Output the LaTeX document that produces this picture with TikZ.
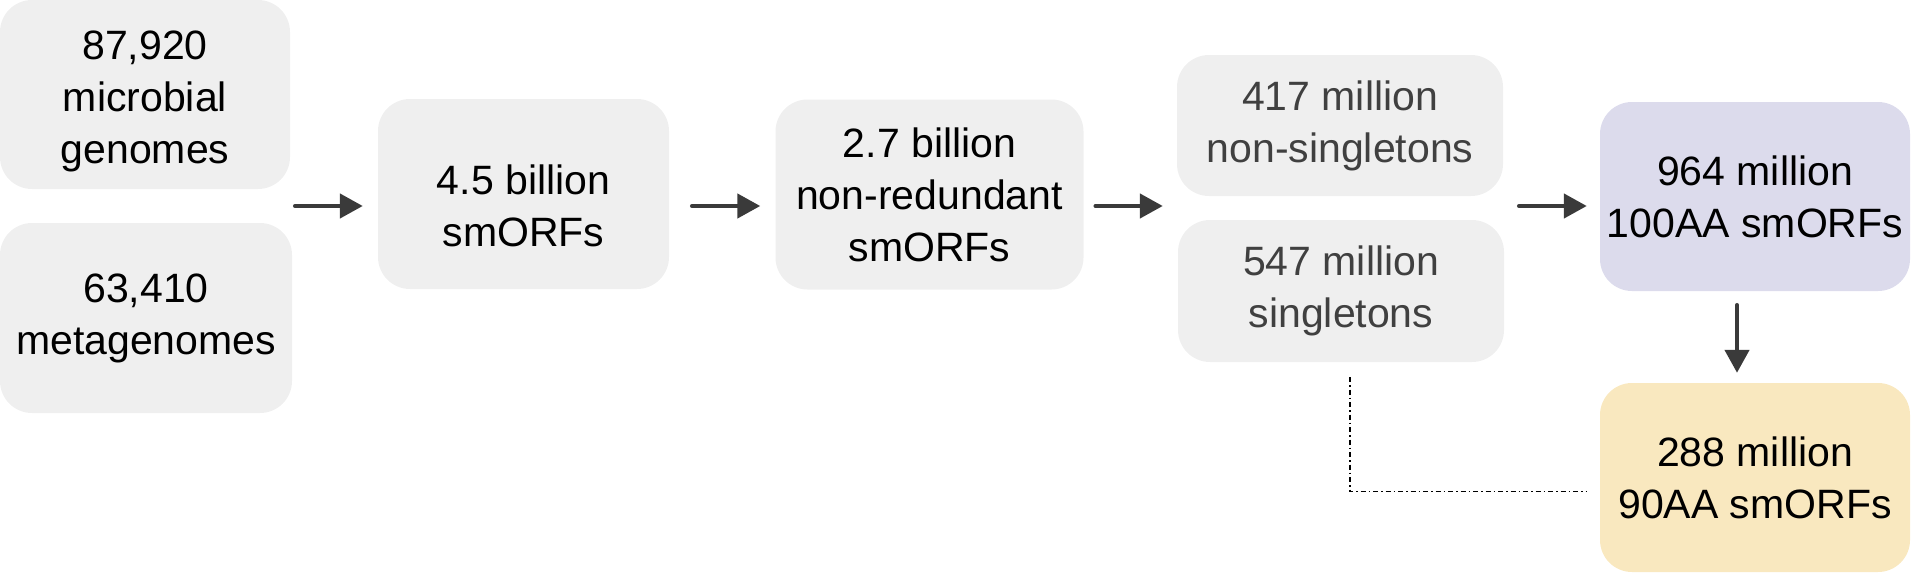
\documentclass[tikz,border=0pt]{standalone}
\usepackage{fontspec}
\setmainfont{Liberation Sans}
\usetikzlibrary{arrows.meta}

\definecolor{boxgray}{HTML}{EFEFEF}
\definecolor{boxblue}{HTML}{DCDBEC}
\definecolor{boxyellow}{HTML}{F9E8BF}
\definecolor{arrowgray}{HTML}{3A3A3A}
\definecolor{textgray}{HTML}{404040}

\newcommand{\lift}[1]{\rule{0pt}{#1}}

\tikzset{
    stage/.style={fill=boxgray, rounded corners=32pt, align=center, inner sep=0pt,
        font=\fontsize{41pt}{52pt}\selectfont},
    flow/.style={-{Triangle[length=23pt,width=24pt]}, line width=4.5pt,
        color=arrowgray, line cap=round},
    link/.style={line width=1.8pt, dash pattern=on 5pt off 3pt on 1.5pt off 3pt},
}

\begin{document}
\begin{tikzpicture}[x=1pt,y=-1pt]

    \useasboundingbox (0,0) rectangle (1911,573);

    % sources
    \node[stage, minimum width=290pt, minimum height=189pt] (genomes) at (145,94.5)
        {\lift{43pt}87,920\\microbial\\genomes};
    \node[stage, minimum width=292pt, minimum height=190pt] (metagenomes) at (146,318)
        {63,410\\metagenomes};

    \node[stage, minimum width=291pt, minimum height=190pt] (orfs) at (523.5,194)
        {\lift{54pt}4.5 billion\\smORFs};
    \node[stage, minimum width=308pt, minimum height=190pt] (nonred) at (929.5,194.5)
        {2.7 billion\\non-redundant\\smORFs};

    \node[stage, text=textgray, minimum width=326pt, minimum height=141pt] (nonsingle) at (1340,125.5)
        {417 million\\non-singletons};
    \node[stage, text=textgray, minimum width=326pt, minimum height=142pt] (single) at (1341,291)
        {547 million\\singletons};

    \node[stage, fill=boxblue, minimum width=310pt, minimum height=189pt] (aa100) at (1755,196.5)
        {964 million\\100AA smORFs};
    \node[stage, fill=boxyellow, minimum width=310pt, minimum height=189pt] (aa90) at (1755,477.5)
        {288 million\\90AA smORFs};

    \coordinate (row) at (0,206);
    \coordinate (col) at (1737,0);

    \draw[flow, shorten <=5pt, shorten >=15pt] (genomes.east |- row) -- (orfs.west |- row);
    \draw[flow, shorten <=23pt, shorten >=15pt] (orfs.east |- row) -- (nonred.west |- row);
    \draw[flow, shorten <=12pt, shorten >=15pt] (nonred.east |- row) -- (single.west |- row);
    \draw[flow, shorten <=16pt, shorten >=13pt] (nonsingle.east |- row) -- (aa100.west |- row);
    \draw[flow, shorten <=14pt, shorten >=10pt] (aa100.south -| col) -- (aa90.north -| col);

    % singletons also feed the 90AA set
    \draw[link, shorten <=15pt, shorten >=13pt] ([xshift=9pt]single.south) |- ([yshift=-14pt]aa90.west);

\end{tikzpicture}
\end{document}
